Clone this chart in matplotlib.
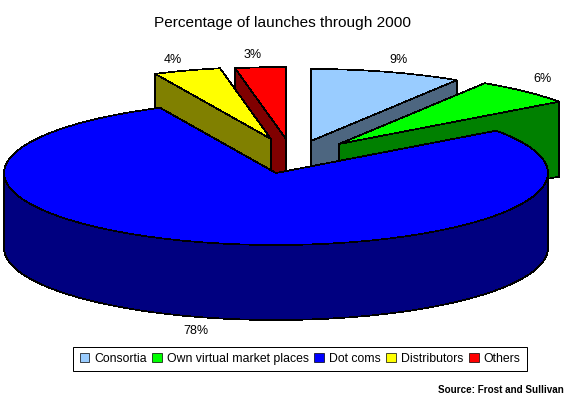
import matplotlib
matplotlib.use('Agg')
import matplotlib.pyplot as plt
from matplotlib.patches import Patch, Polygon
import numpy as np

plt.rcParams['font.family'] = ['Liberation Sans', 'DejaVu Sans']

categories = ['Consortia', 'Own virtual market places', 'Dot coms', 'Distributors', 'Others']
shares = [9, 6, 78, 4, 3]

top_colors = ['#99CCFF', '#00FF00', '#0000FF', '#FFFF00', '#FF0000']
wall_colors = ['#4D6680', '#008000', '#000080', '#808000', '#800000']

# pie geometry in pixels
RX, RY, DEPTH = 272, 72, 75
apexes = [(311, 141), (339, 144), (276, 173), (271, 139), (286, 139)]
label_pos = [(399, 60), (542, 79), (196, 331), (173, 60), (253, 55)]

fig = plt.figure(figsize=(5.68, 4.05), dpi=100, facecolor='white')
ax = fig.add_axes([0, 0, 1, 1])
ax.set_xlim(0, 568)
ax.set_ylim(405, 0)
ax.axis('off')

# slices run clockwise from twelve o'clock
edges = np.cumsum([0] + shares) / sum(shares) * 360


def rim(apex, deg):
    a = np.radians(deg)
    return np.column_stack([apex[0] + RX * np.sin(a), apex[1] - RY * np.cos(a)])


def add_poly(pts, color, z):
    ax.add_patch(Polygon(pts, closed=True, facecolor=color, edgecolor='black',
                         linewidth=0.5, joinstyle='miter', antialiased=False, zorder=z))


def draw_slice(i, z):
    apex = apexes[i]
    start, end = edges[i], edges[i + 1]
    arc = rim(apex, np.linspace(start, end, 160))
    down = np.array([0, DEPTH])
    apex_pt = np.array([apex])

    if i == 2:
        # big slice shows its curved front wall
        front = rim(apex, np.linspace(90, 270, 200))
        add_poly(np.vstack([front, (front + down)[::-1]]), wall_colors[i], z)
    else:
        # the cut face turned towards the viewer
        side = end if start < 90 else start
        tip = rim(apex, np.array([side]))
        add_poly(np.vstack([apex_pt, tip, tip + down, apex_pt + down]), wall_colors[i], z)

    add_poly(np.vstack([apex_pt, arc]), top_colors[i], z + 0.5)


for z, i in enumerate([0, 1, 4, 3, 2]):
    draw_slice(i, z + 1)

for share, (x, y) in zip(shares, label_pos):
    ax.text(x, y, f'{share}%', ha='center', va='center', fontsize=9, color='black', zorder=10)

ax.text(283, 23, 'Percentage of launches through 2000', ha='center', va='center',
        fontsize=11.1, color='black')
ax.text(564, 390, 'Source: Frost and Sullivan', ha='right', va='center',
        fontsize=7.1, fontweight='bold', color='black')

handles = [Patch(facecolor=c, edgecolor='black', linewidth=0.5) for c in top_colors]
leg = ax.legend(handles, categories, ncol=5, loc='center', bbox_to_anchor=(300 / 568, 1 - 359 / 405),
                fontsize=8.8, frameon=True, fancybox=False, framealpha=1, edgecolor='black',
                handlelength=0.8, handleheight=0.8, handletextpad=0.4, columnspacing=0.45,
                borderpad=0.5, borderaxespad=0)
leg.get_frame().set_linewidth(0.72)
leg.set_zorder(11)

fig.savefig('out.png', dpi=100, facecolor='white')
